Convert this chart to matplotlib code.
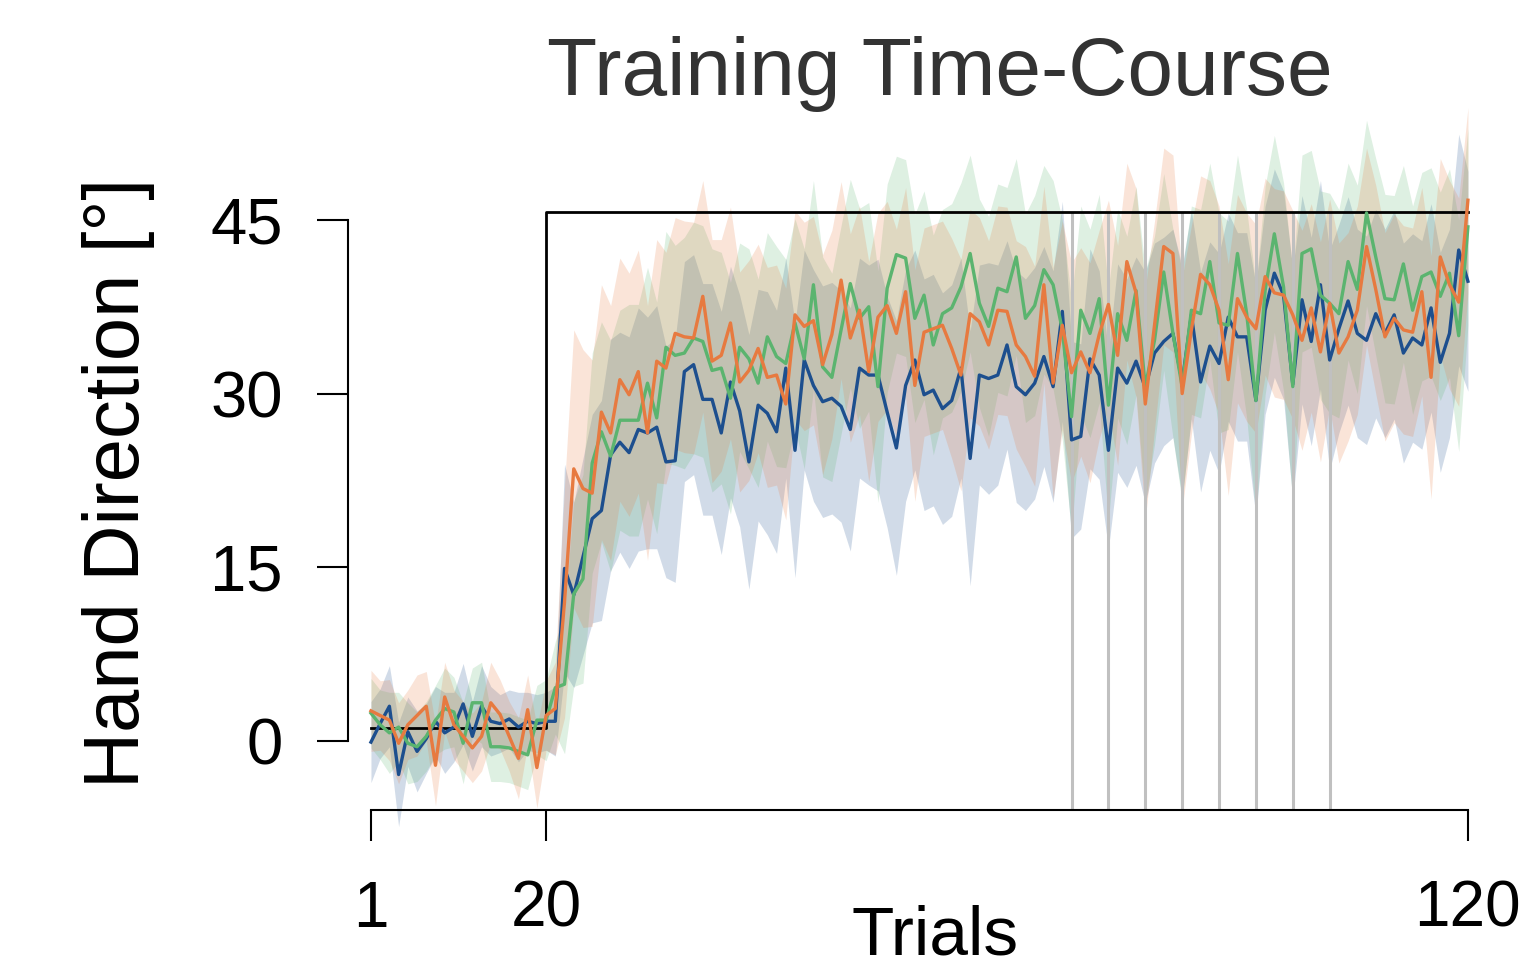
import matplotlib
matplotlib.use("Agg")
import matplotlib.pyplot as plt
import numpy as np

plt.rcParams['font.family'] = ['Liberation Sans', 'DejaVu Sans']

trials = np.arange(1, 121)

# group mean hand direction per trial (deg)
blue_mean = [-0.1, 1.5, 3.0, -2.9, 0.8, -0.9, 0.2, 1.7, 0.7, 1.2,
             3.2, 0.4, 3.0, 1.7, 1.5, 1.9, 1.2, 1.7, 1.5, 1.7,
             1.7, 14.9, 12.6, 15.9, 19.2, 19.9, 24.7, 25.8, 24.9, 26.9,
             26.6, 27.1, 24.1, 24.2, 31.9, 32.5, 29.5, 29.5, 26.6, 31.0,
             28.5, 24.1, 29.0, 28.3, 26.7, 32.2, 25.1, 32.9, 30.7, 29.3,
             29.6, 28.9, 26.9, 32.2, 31.6, 31.6, 28.4, 25.3, 30.7, 32.9,
             29.9, 30.3, 28.7, 29.4, 32.2, 24.4, 31.6, 31.3, 31.6, 34.2,
             30.6, 29.9, 30.9, 33.2, 30.6, 37.1, 26.0, 26.3, 33.0, 31.6,
             25.1, 32.2, 30.9, 32.8, 30.5, 33.5, 34.5, 35.2, 31.0, 36.8,
             31.0, 34.1, 32.6, 36.6, 34.9, 34.9, 29.4, 37.2, 40.4, 38.5,
             30.8, 38.1, 34.5, 39.4, 32.9, 35.6, 38.0, 35.2, 34.6, 36.9,
             35.2, 36.8, 33.5, 34.8, 34.2, 37.4, 32.7, 35.2, 42.4, 39.7]

green_mean = [2.4, 1.4, 0.7, 1.2, -0.2, -0.5, 0.4, 1.8, 2.8, 2.5,
              -0.2, 3.3, 3.3, -0.5, -0.5, -0.6, -0.9, -1.2, 1.8, 1.8,
              4.6, 4.9, 12.7, 14.0, 24.0, 26.7, 24.6, 27.7, 27.7, 27.7,
              30.9, 27.9, 34.0, 33.3, 33.5, 34.8, 34.5, 32.0, 32.2, 29.6,
              34.0, 33.0, 30.9, 34.9, 33.2, 32.6, 36.1, 33.0, 39.4, 32.3,
              31.4, 35.5, 39.5, 36.5, 37.5, 30.6, 39.1, 42.0, 41.7, 36.5,
              38.5, 34.2, 36.9, 37.4, 39.2, 42.1, 37.8, 35.8, 39.1, 38.8,
              41.8, 36.5, 37.6, 40.7, 39.4, 35.5, 28.0, 37.2, 35.2, 38.2,
              29.0, 36.9, 34.6, 38.9, 30.6, 34.6, 40.5, 35.2, 30.6, 37.2,
              36.9, 41.4, 36.1, 35.9, 42.1, 36.9, 29.4, 38.9, 43.8, 39.2,
              30.6, 42.1, 42.5, 38.5, 37.8, 36.9, 41.4, 39.0, 45.6, 41.8,
              38.2, 38.1, 41.2, 37.2, 40.1, 40.5, 38.4, 40.4, 35.0, 44.4]

orange_mean = [2.6, 2.2, 1.8, -0.2, 1.4, 2.2, 3.0, -2.1, 3.8, 1.4,
               0.4, -0.6, 0.4, 3.3, 2.3, 0.4, -1.5, 2.7, -2.3, 2.2,
               2.8, 12.0, 23.5, 21.8, 21.4, 28.4, 26.6, 31.2, 29.9, 31.9,
               26.6, 32.8, 32.2, 35.2, 34.9, 34.8, 38.4, 32.8, 33.3, 36.1,
               31.0, 32.0, 33.9, 31.4, 31.6, 29.1, 36.8, 35.8, 36.3, 32.5,
               35.1, 39.8, 34.8, 37.2, 31.9, 36.6, 37.6, 35.2, 38.8, 30.7,
               35.3, 35.6, 35.9, 33.9, 31.6, 36.9, 36.2, 34.2, 37.2, 37.1,
               34.2, 33.2, 31.5, 39.4, 30.9, 35.9, 31.8, 33.6, 31.8, 35.1,
               37.7, 33.3, 41.4, 38.7, 29.1, 35.9, 42.7, 42.1, 30.0, 35.5,
               40.3, 39.4, 37.2, 31.2, 38.2, 36.6, 35.6, 40.1, 38.7, 38.5,
               36.8, 34.6, 37.4, 33.6, 37.8, 33.5, 34.9, 37.2, 42.7, 39.0,
               34.9, 36.5, 35.5, 35.3, 38.8, 31.4, 41.8, 39.4, 37.9, 46.7]

# half-width of the shaded interval around each mean
blue_ci = [3.5, 3.0, 3.5, 4.5, 3.0, 3.5, 3.0, 3.0, 3.5, 3.0,
           3.5, 3.0, 3.5, 3.0, 2.5, 2.5, 3.0, 2.5, 2.5, 2.5,
           3.0, 9.0, 8.0, 8.5, 9.0, 9.5, 10.0, 9.5, 10.0, 10.5,
           10.0, 10.5, 10.0, 10.5, 9.5, 9.5, 10.0, 10.0, 10.5, 10.0,
           10.0, 11.0, 10.0, 10.5, 10.5, 9.5, 11.0, 9.5, 10.0, 10.0,
           10.0, 10.0, 10.5, 9.5, 9.5, 10.0, 10.0, 11.0, 10.0, 9.5,
           10.0, 10.0, 10.0, 10.0, 9.5, 11.0, 9.5, 10.0, 9.5, 9.0,
           10.0, 10.0, 10.0, 9.5, 10.0, 9.5, 8.5, 8.0, 9.5, 9.0,
           8.5, 9.0, 9.0, 9.0, 10.0, 9.5, 9.0, 9.0, 10.0, 9.0,
           9.5, 9.0, 9.5, 9.0, 9.0, 9.0, 10.0, 9.0, 9.0, 9.0,
           10.0, 9.0, 9.0, 9.0, 9.5, 9.0, 9.0, 9.0, 9.0, 9.0,
           9.0, 9.0, 9.5, 9.0, 9.0, 9.0, 9.5, 9.0, 10.0, 9.5]

green_ci = [3.0, 3.0, 3.5, 3.0, 3.5, 3.0, 3.0, 3.0, 3.5, 3.0,
            3.5, 3.0, 3.5, 3.0, 3.0, 3.0, 3.0, 3.0, 3.0, 3.5,
            4.0, 6.0, 8.0, 9.0, 9.5, 9.5, 10.0, 9.5, 10.0, 10.0,
            10.0, 10.0, 10.0, 9.5, 10.0, 10.0, 10.0, 10.5, 10.0, 10.0,
            9.0, 9.5, 9.0, 9.0, 9.5, 9.0, 9.0, 9.5, 9.0, 9.5,
            9.0, 9.0, 9.0, 9.5, 9.0, 10.0, 9.0, 8.5, 8.5, 9.0,
            9.0, 9.5, 9.0, 9.0, 9.0, 8.5, 9.0, 9.5, 9.0, 9.0,
            8.5, 9.0, 9.5, 9.0, 9.0, 9.5, 10.0, 9.0, 9.0, 9.0,
            10.0, 9.0, 9.0, 9.0, 10.0, 9.0, 8.5, 9.0, 10.0, 9.0,
            9.0, 8.5, 9.5, 9.0, 8.5, 9.0, 10.0, 9.0, 8.5, 9.0,
            10.0, 8.5, 8.5, 9.0, 9.5, 9.0, 8.5, 9.0, 8.0, 8.5,
            9.0, 9.0, 8.5, 9.0, 9.0, 9.0, 9.0, 9.0, 10.0, 8.5]

orange_ci = [3.5, 3.0, 3.5, 3.5, 3.0, 3.5, 3.0, 3.5, 3.0, 3.0,
             3.0, 3.0, 3.0, 3.5, 3.0, 3.0, 3.5, 3.0, 3.5, 3.0,
             4.0, 10.0, 12.0, 12.0, 11.5, 11.0, 11.0, 10.5, 10.5, 10.5,
             11.0, 10.5, 10.0, 10.0, 10.0, 10.0, 10.0, 10.5, 10.0, 10.0,
             9.5, 9.5, 9.0, 9.5, 9.5, 10.0, 9.0, 9.0, 9.0, 9.5,
             9.0, 8.5, 9.0, 9.0, 9.5, 9.0, 9.0, 9.0, 9.0, 10.0,
             9.0, 9.0, 9.0, 9.5, 10.0, 9.0, 9.0, 9.0, 9.0, 9.0,
             9.0, 9.5, 9.5, 8.5, 10.0, 9.0, 9.5, 9.0, 9.5, 9.0,
             9.0, 9.5, 8.5, 9.0, 10.0, 9.0, 8.5, 8.5, 10.0, 9.0,
             8.5, 9.0, 9.0, 10.0, 9.0, 9.0, 9.0, 8.5, 9.0, 9.0,
             9.0, 9.5, 9.0, 9.5, 9.0, 9.5, 9.0, 9.0, 8.5, 9.0,
             9.0, 9.0, 9.0, 9.0, 9.0, 10.5, 8.5, 9.0, 9.0, 8.0]

# rotation schedule (step at trial 20) and no-cursor trials
schedule_x = [1, 20, 20, 120]
schedule_y = [1.1, 1.1, 45.7, 45.7]
nocursor_trials = [77, 81, 85, 89, 93, 97, 101, 105]

groups = [
    (blue_mean, blue_ci, '#1d4f8e'),
    (green_mean, green_ci, '#5bb46f'),
    (orange_mean, orange_ci, '#e77a40'),
]

fig = plt.figure(figsize=(15.22, 9.76), dpi=100)
ax = fig.add_axes([0.2195, 0.1459, 0.7692, 0.7593])
ax.set_xlim(-3, 124)
ax.set_ylim(-8, 56)

for mean, ci, col in groups:
    m = np.array(mean)
    c = np.array(ci)
    ax.fill_between(trials, m - c, m + c, color=col, alpha=0.2,
                    linewidth=0, zorder=1)

ax.vlines(nocursor_trials, -6, schedule_y[-1], color='#c0c0c0',
          linewidth=2.2, zorder=2)
ax.plot(schedule_x, schedule_y, color='black', linewidth=2.0, zorder=3)

for mean, ci, col in groups:
    ax.plot(trials, mean, color=col, linewidth=2.4, zorder=4)

# R-style detached axes
for side in ['top', 'right']:
    ax.spines[side].set_visible(False)
ax.spines['left'].set_position(('data', -1.5))
ax.spines['left'].set_bounds(0, 45)
ax.spines['bottom'].set_position(('data', -6))
ax.spines['bottom'].set_bounds(1, 120)
for side in ['left', 'bottom']:
    ax.spines[side].set_linewidth(1.5)

ax.set_yticks([0, 15, 30, 45])
ax.set_xticks([1, 20, 120])
ax.tick_params(axis='y', length=22, width=1.5, pad=25, labelsize=47)
ax.tick_params(axis='x', length=22, width=1.5, pad=28, labelsize=46)

fig.text(940 / 1522, 1 - 95 / 976, 'Training Time-Course', fontsize=59,
         color='#333333', ha='center', va='baseline')
fig.text(119 / 1522, 0.5056, 'Hand Direction [°]', fontsize=56,
         rotation=90, ha='center', va='center')
fig.text(935 / 1522, 0.022, 'Trials', fontsize=50, ha='center',
         va='baseline')

fig.savefig('out.png', dpi=100)
